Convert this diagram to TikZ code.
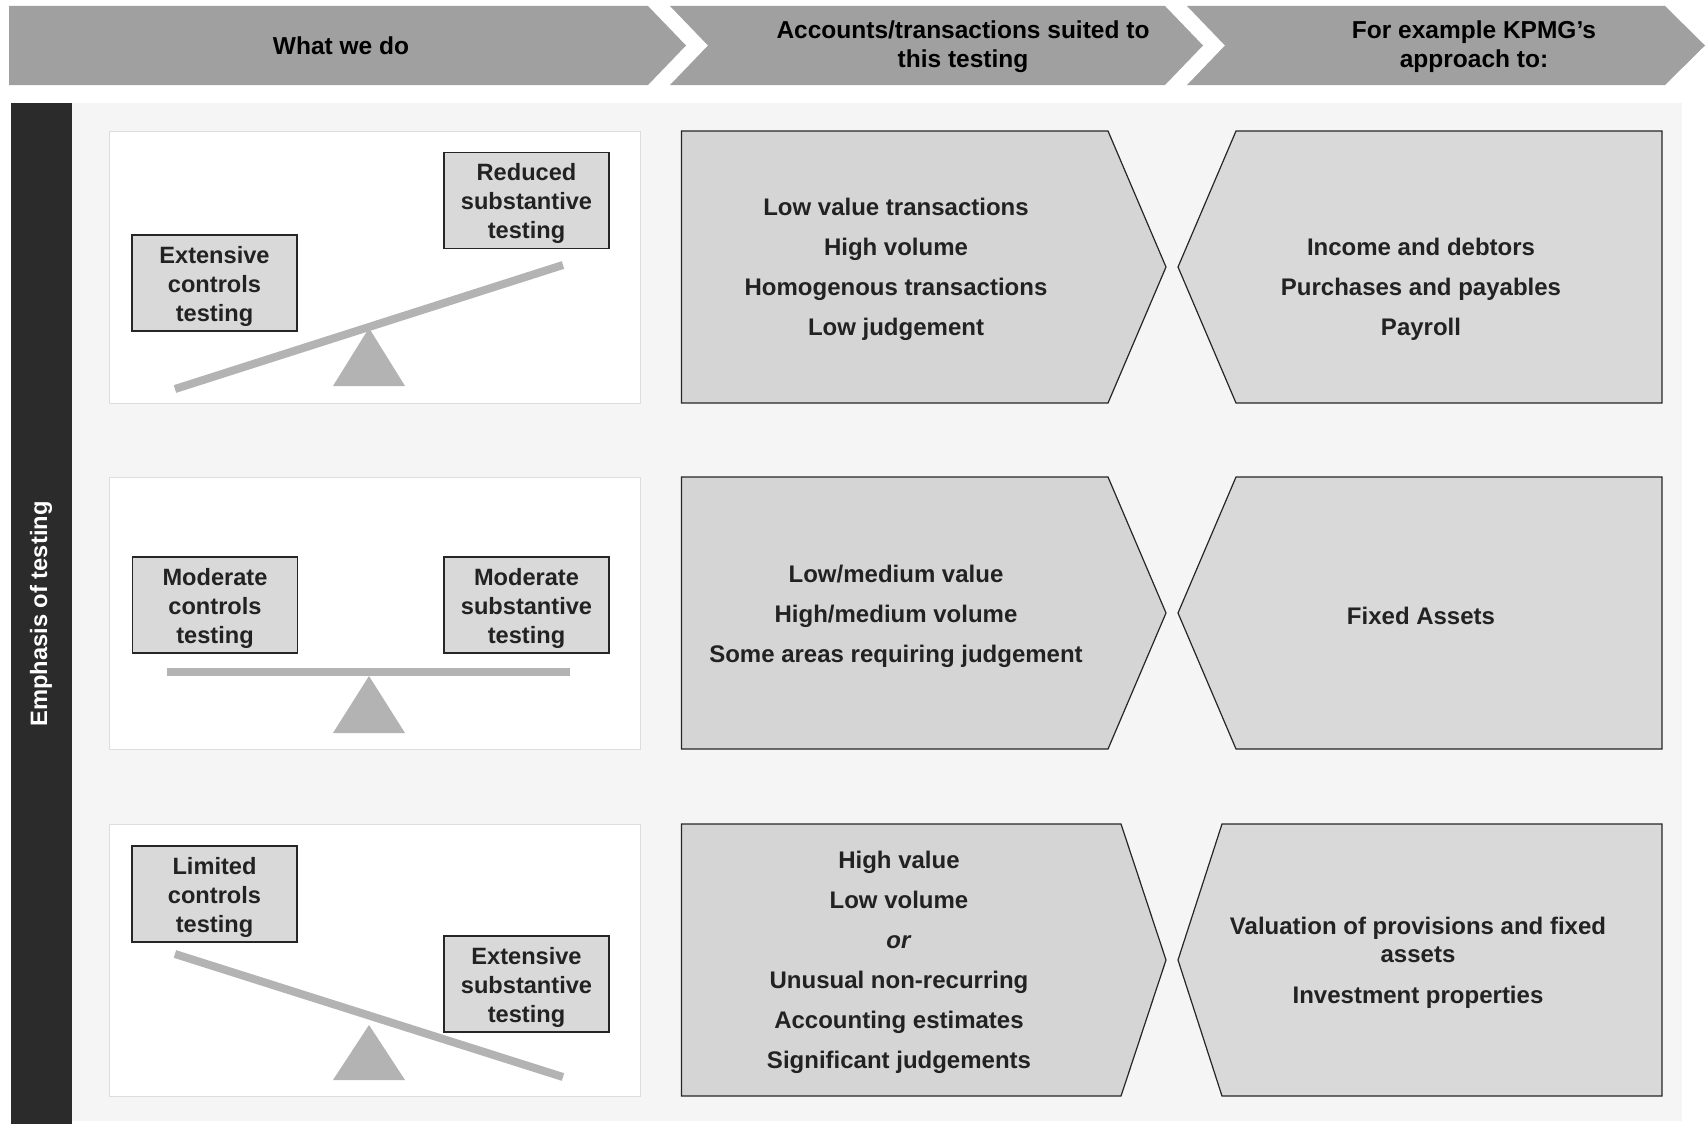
\documentclass[tikz,border=0pt]{standalone}
\usepackage{fontspec}
\setmainfont{Liberation Sans}
\definecolor{hdr}{HTML}{A0A0A0}
\definecolor{darkbar}{HTML}{2B2B2B}
\definecolor{panel}{HTML}{F5F5F5}
\definecolor{boxfill}{HTML}{D9D9D9}
\definecolor{midfill}{HTML}{D5D5D5}
\definecolor{beamcol}{HTML}{B3B3B3}
\definecolor{txt}{HTML}{222222}
\definecolor{rowedge}{HTML}{DDDDDD}
\tikzset{
  hdrseg/.style={fill=hdr, draw=none},
  hdrtext/.style={font=\bfseries\fontsize{24.5}{29}\selectfont, text=black, align=center, inner sep=0pt},
  lbl/.style={draw=black!85, line width=1.3pt, fill=boxfill, minimum width=165pt, minimum height=96pt, inner sep=0pt},
  lbltext/.style={align=center, inner sep=0pt, font=\bfseries\fontsize{23.6}{29}\selectfont, text=txt},
  listtext/.style={font=\bfseries\fontsize{24}{40}\selectfont, text=txt, align=center, inner sep=0pt},
  chevbox/.style={draw=black!85, line width=1.2pt},
  rowpanel/.style={fill=white, draw=rowedge, line width=1pt},
  beam/.style={draw=beamcol, line width=8pt},
  fulcrum/.style={fill=beamcol, draw=none},
}
\begin{document}
\begin{tikzpicture}[x=1pt,y=-1pt]
\useasboundingbox (0,0) rectangle (1707,1124);
\fill[white] (0,0) rectangle (1707,1124);
% header
\fill[hdrseg] (9,6) -- (648,6) -- (686,45.5) -- (648,85) -- (9,85) -- cycle;
\fill[hdrseg] (670,6) -- (1165,6) -- (1203,45.5) -- (1165,85) -- (670,85) -- (708,45.5) -- cycle;
\fill[hdrseg] (1187,6) -- (1665,6) -- (1705,45.5) -- (1665,85) -- (1187,85) -- (1225,45.5) -- cycle;
\node[hdrtext] (h1) at (341,46) {What we do};
\node[hdrtext] (h2) at (963,47) {Accounts/transactions suited to\\this testing};
\node[hdrtext] (h3) at (1474,47) {For example KPMG’s\\approach to:};
% panel and side bar
\fill[panel] (72,103) rectangle (1682,1121);
\fill[darkbar] (11,103) rectangle (72,1124);
\node[rotate=90, text=white, font=\bfseries\fontsize{23.7}{28}\selectfont, inner sep=0pt] (emph) at (41,614) {Emphasis of testing};
% row panels
\foreach \T in {131,477,824} {
  \draw[rowpanel] (109,\T) rectangle (640,\T+272);
}
% row 1 seesaw
\draw[beam] (175,389) -- (563,265);
\fill[fulcrum] (369,328) -- (405,386) -- (333,386) -- cycle;
\node[lbl] (r1l) at (214.5,283) {};
\node[lbl] (r1r) at (526.5,200.5) {};
\node[lbltext] (r1lt) at ([yshift=-3pt]r1l.center) {Extensive\\controls\\testing};
\node[lbltext] (r1rt) at ([yshift=-3pt]r1r.center) {Reduced\\substantive\\testing};
% row 2 seesaw
\draw[beam] (167,672) -- (570,672);
\fill[fulcrum] (369,676) -- (405,733) -- (333,733) -- cycle;
\node[lbl] (r2l) at (215,605) {};
\node[lbl] (r2r) at (526.5,605) {};
\node[lbltext] (r2lt) at ([yshift=-3pt]r2l.center) {Moderate\\controls\\testing};
\node[lbltext] (r2rt) at ([yshift=-3pt]r2r.center) {Moderate\\substantive\\testing};
% row 3 seesaw
\draw[beam] (175,954) -- (563,1077);
\fill[fulcrum] (369,1025) -- (405,1080) -- (333,1080) -- cycle;
\node[lbl] (r3l) at (214.5,894) {};
\node[lbl] (r3r) at (526.5,984) {};
\node[lbltext] (r3lt) at ([yshift=-3pt]r3l.center) {Limited\\controls\\testing};
\node[lbltext] (r3rt) at ([yshift=-3pt]r3r.center) {Extensive\\substantive\\testing};
% middle chevrons
\draw[chevbox, fill=midfill] (681.5,131) -- (1108,131) -- (1166,267) -- (1108,403) -- (681.5,403) -- cycle;
\draw[chevbox, fill=midfill] (681.5,477) -- (1108,477) -- (1166,613) -- (1108,749) -- (681.5,749) -- cycle;
\draw[chevbox, fill=midfill] (681.5,824) -- (1121,824) -- (1166,960) -- (1121,1096) -- (681.5,1096) -- cycle;
% right boxes
\draw[chevbox, fill=boxfill] (1236,131) -- (1662,131) -- (1662,403) -- (1236,403) -- (1178,267) -- cycle;
\draw[chevbox, fill=boxfill] (1236,477) -- (1662,477) -- (1662,749) -- (1236,749) -- (1178,613) -- cycle;
\draw[chevbox, fill=boxfill] (1222,824) -- (1662,824) -- (1662,1096) -- (1222,1096) -- (1178,960) -- cycle;
% middle texts
\node[listtext] (m1) at (896,269.5) {Low value transactions\\High volume\\Homogenous transactions\\Low judgement};
\node[listtext] (m2) at (896,616) {Low/medium value\\High/medium volume\\Some areas requiring judgement};
\node[listtext] (m3) at (899,962.5) {High value\\Low volume\\\textit{or}\\Unusual non-recurring\\Accounting estimates\\Significant judgements};
% right texts
\node[listtext] (k1) at (1421,289.5) {Income and debtors\\Purchases and payables\\Payroll};
\node[listtext] (k2) at (1421,616) {Fixed Assets};
\node[listtext, font=\bfseries\fontsize{24}{28}\selectfont] (k3) at (1418,962.5) {Valuation of provisions and fixed\\assets\\[13pt]Investment properties};
\end{tikzpicture}
\end{document}
